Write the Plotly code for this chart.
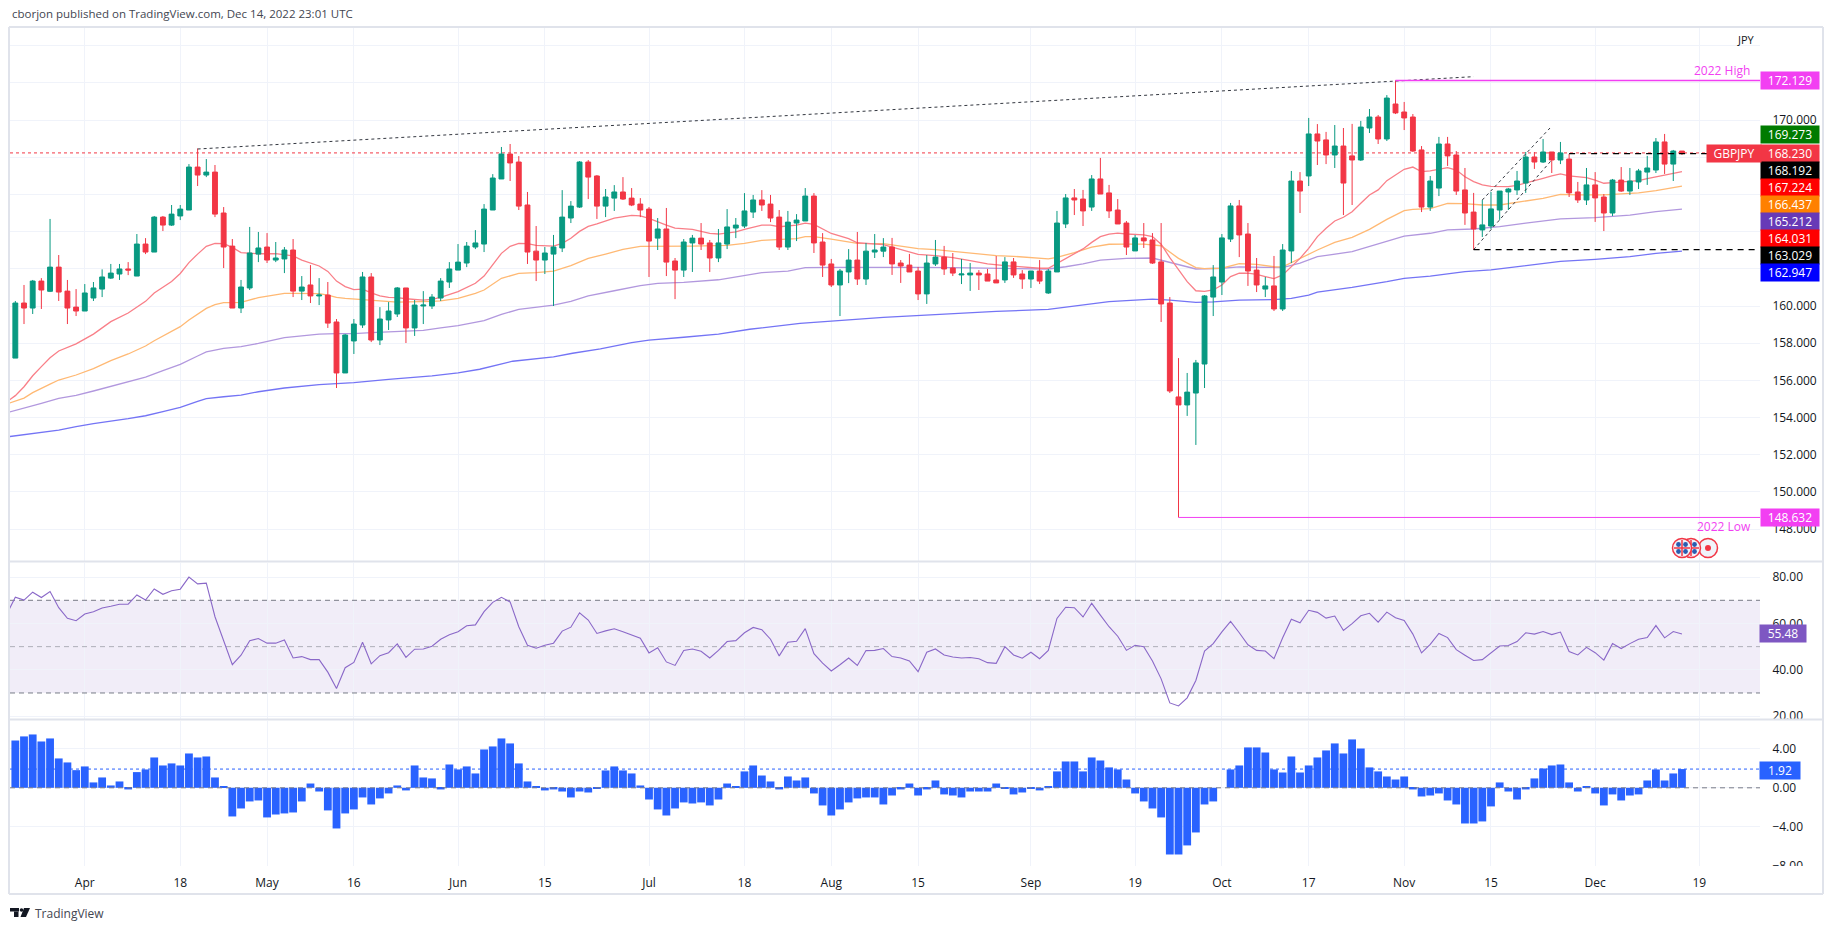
import plotly.graph_objects as go

W, H = 1833, 930

opens = [157.20,160.16,159.89,161.34,160.79,162.09,160.80,159.94,159.73,160.43,
160.91,161.50,161.72,161.99,161.61,163.33,162.90,164.78,164.35,164.84,
165.16,167.47,167.04,167.20,165.00,163.22,159.89,160.97,162.79,163.17,
162.47,162.53,163.01,160.80,161.13,160.54,160.59,159.14,156.40,158.12,
158.98,161.56,158.17,159.25,159.57,160.97,158.82,160.00,160.00,160.43,
161.29,161.93,162.31,163.17,163.33,165.16,166.83,168.17,167.74,165.43,
162.95,162.47,162.79,163.12,164.73,165.32,167.74,166.99,165.37,165.80,
166.13,165.80,165.48,165.21,163.65,164.14,162.42,161.93,163.39,163.65,
163.39,162.58,163.33,164.19,164.30,165.05,165.70,165.48,164.78,163.17,
164.46,164.57,165.91,163.44,162.26,161.13,161.83,162.47,161.45,162.90,
162.95,163.17,162.31,162.20,161.88,160.65,162.26,162.63,162.04,161.67,
161.67,161.77,161.72,161.40,161.40,162.37,161.72,161.45,161.88,160.70,
161.83,164.41,165.81,165.75,165.32,166.83,166.08,165.16,164.46,162.96,
163.66,163.55,162.37,160.16,155.11,154.68,155.32,156.88,160.48,161.29,
163.60,165.38,163.87,161.93,160.91,161.08,159.84,162.96,166.72,166.99,
169.25,168.93,168.12,168.60,168.07,167.85,169.57,170.16,168.98,170.86,
170.43,170.16,168.39,165.32,166.34,168.71,168.12,166.24,165.05,164.09,
164.30,165.16,166.13,166.24,166.61,168.01,167.74,168.28,167.85,167.90,
166.13,165.70,166.51,165.86,165.00,166.77,166.18,166.67,167.20,167.31,
168.82,167.63,168.33]

highs = [160.27,161.13,161.40,161.50,164.68,162.74,161.40,160.91,161.18,161.29,
161.97,162.26,162.26,162.36,163.87,163.65,164.84,164.84,165.43,165.43,
167.63,168.47,167.90,167.58,165.32,163.60,161.40,164.25,163.98,163.92,
163.44,163.17,163.60,161.61,162.20,161.50,161.29,159.30,158.49,159.30,
161.83,161.77,159.94,160.21,161.02,160.97,160.32,160.80,160.64,161.50,
162.36,163.33,163.44,164.08,165.48,167.09,168.55,168.71,168.06,166.13,
164.30,163.17,163.82,166.23,165.64,167.79,167.85,167.04,166.29,166.50,
166.93,166.34,165.80,165.32,164.73,165.27,162.58,163.60,163.82,164.46,
163.55,164.14,165.21,164.73,166.07,165.97,166.23,165.97,165.16,165.11,
164.94,166.34,166.07,163.92,162.53,161.99,163.06,163.98,163.39,163.87,
163.65,163.66,162.47,162.80,162.10,162.74,163.55,163.23,162.85,162.53,
162.31,161.93,161.99,162.69,162.63,162.58,161.93,161.88,162.47,161.99,
165.11,166.02,166.29,166.24,167.04,167.96,166.51,165.75,164.57,163.82,
164.46,163.92,164.46,160.48,157.20,156.40,157.10,160.59,162.20,163.87,
165.54,165.70,164.46,162.58,161.56,162.69,163.33,167.26,167.20,170.11,
169.78,169.36,169.73,169.57,169.79,169.95,170.59,170.27,171.34,172.13,
170.97,170.32,168.60,166.99,169.09,169.09,168.33,167.42,166.08,165.70,
166.13,166.18,166.34,167.26,168.28,168.28,168.98,168.28,168.82,168.17,
166.67,167.42,167.20,166.02,166.83,167.47,167.42,167.37,168.07,169.03,
169.25,168.39,168.33]

lows = [157.20,159.03,159.57,159.84,160.75,160.27,159.03,159.46,159.73,160.27,
160.48,161.45,161.40,161.66,161.61,162.79,162.90,164.03,164.30,164.62,
165.16,166.45,166.93,164.78,162.04,159.89,159.62,160.86,162.36,162.31,
162.36,161.77,160.48,160.32,160.16,160.05,158.82,155.59,156.40,157.42,
158.82,158.06,157.90,158.71,159.41,158.01,158.39,159.03,159.84,160.27,
160.97,161.93,162.09,163.06,162.90,165.16,166.83,166.72,165.16,162.26,
161.34,161.72,160.00,162.90,164.46,165.27,165.75,164.68,164.78,165.11,
165.70,165.37,164.78,161.56,163.01,161.61,160.37,161.56,161.83,163.01,
161.83,162.36,163.06,163.65,164.19,164.73,165.11,164.51,163.01,163.01,
163.49,164.57,162.85,161.56,161.02,159.46,161.23,161.13,161.13,162.58,
162.63,161.67,161.24,161.83,160.32,160.11,162.15,161.67,161.61,161.18,
160.81,160.86,161.34,161.24,161.24,161.51,160.92,160.97,161.18,160.65,
161.83,164.19,164.89,164.30,165.11,166.02,164.73,164.41,162.74,162.96,
163.12,162.26,159.14,155.32,148.63,154.09,152.53,155.59,159.46,160.59,
163.44,162.63,161.08,160.75,160.48,159.73,159.73,162.31,165.00,166.45,
167.58,167.63,167.42,164.89,165.43,167.80,169.30,168.71,168.87,170.32,
169.46,168.28,165.05,165.11,165.91,167.53,165.97,164.36,163.03,163.71,
164.14,164.63,165.16,165.97,166.08,167.37,167.69,167.15,167.63,165.86,
165.54,165.43,164.52,164.03,164.84,166.13,165.97,166.29,166.51,167.15,
167.10,166.72,168.12]

closes = [160.16,159.89,161.34,160.86,162.09,160.75,159.89,159.73,160.70,160.97,
161.56,161.77,161.99,161.93,163.33,162.90,164.78,164.35,164.94,165.21,
167.47,167.04,167.20,164.94,163.17,159.89,161.02,162.85,163.12,162.47,
162.58,163.01,160.80,161.02,160.54,160.59,159.08,156.40,158.44,159.03,
161.56,158.17,159.30,159.73,160.97,158.82,160.05,160.05,160.48,161.34,
161.99,162.36,163.22,163.39,165.21,166.88,168.17,167.69,165.37,162.90,
162.47,162.85,163.17,164.78,165.37,167.74,166.93,165.37,165.86,166.13,
165.75,165.43,165.16,163.49,164.14,162.36,161.93,163.44,163.65,163.33,
162.58,163.39,164.25,164.35,165.11,165.70,165.43,164.73,163.17,164.51,
164.62,165.91,163.39,162.20,161.13,161.88,162.47,161.45,162.95,163.01,
163.17,162.26,162.15,161.83,160.65,162.31,162.63,161.99,161.77,161.72,
161.77,161.67,161.34,161.24,162.37,161.67,161.45,161.88,161.34,161.88,
164.46,165.81,165.70,165.11,166.83,166.02,165.11,164.41,163.17,163.66,
163.50,162.31,160.11,155.43,154.68,155.37,156.94,160.54,161.56,163.66,
165.38,163.82,161.88,161.13,161.08,159.84,163.01,166.72,166.18,169.25,
168.87,168.12,168.60,166.61,167.85,169.62,170.16,168.98,171.18,170.38,
170.11,168.33,165.32,166.72,168.71,168.07,166.18,165.00,164.14,164.36,
165.22,166.18,166.29,166.72,168.01,167.74,168.28,167.85,168.23,166.08,
165.70,166.51,165.81,165.00,166.77,166.18,166.72,167.26,167.42,168.82,
167.63,168.33,168.23]

ema20_idx = [-1,0,1,2,3,4,5,6,7,9,11,13,15,16,18,19,20,21,22,23,24,25,26,28,30,32,33,35,36,37,38,39,40,41,42,43,44,45,46,47,48,49,51,53,54,55,56,57,58,59,60,62,63,64,65,66,67,69,71,72,73,75,76,78,80,81,83,84,86,87,88,90,91,92,94,96,97,100,101,103,104,106,108,110,112,114,116,118,119,120,121,122,123,124,125,126,127,128,129,130,131,132,133,134,135,136,137,138,139,140,141,142,143,144,145,146,147,148,149,150,151,152,153,154,155,156,157,158,159,160,161,162,163,164,165,166,167,168,169,170,171,172,173,174,175,176,177,178,179,180,181,182,183,184,185,186,187,188,189,190,191,192]
ema20_val = [154.84,155.18,155.66,156.25,156.74,157.22,157.58,157.78,157.96,158.49,159.16,159.62,160.25,160.70,161.32,161.75,162.33,162.79,163.21,163.37,163.35,163.15,162.87,162.81,162.81,162.69,162.47,162.15,161.86,161.34,161.04,160.88,160.91,160.71,160.55,160.46,160.45,160.39,160.34,160.32,160.36,160.46,160.77,161.22,161.61,162.20,162.83,163.21,163.37,163.35,163.26,163.22,163.37,163.64,164.01,164.28,164.41,164.73,164.87,164.84,164.71,164.35,164.19,164.12,163.90,163.87,163.99,164.12,164.35,164.35,164.26,164.35,164.46,164.39,163.90,163.62,163.40,163.30,163.17,162.92,162.78,162.71,162.60,162.44,162.26,162.17,162.08,162.03,162.03,162.29,162.56,162.83,163.07,163.42,163.73,163.87,163.92,163.87,163.84,163.82,163.73,163.32,162.60,161.94,161.31,160.82,160.79,160.86,161.13,161.58,161.76,161.77,161.70,161.58,161.47,161.67,162.11,162.56,163.10,163.73,164.18,164.57,164.77,165.07,165.52,165.97,166.24,166.74,167.04,167.35,167.47,167.22,167.26,167.35,167.44,167.31,166.95,166.69,166.51,166.43,166.42,166.42,166.49,166.60,166.74,166.86,166.99,167.10,166.99,166.94,166.90,166.77,166.60,166.63,166.67,166.67,166.74,166.85,166.95,167.04,167.13,167.22]

ema50_idx = [-1,1,2,3,4,5,7,9,11,13,15,16,18,19,20,21,22,23,24,25,26,28,30,31,32,34,35,36,37,38,40,42,44,46,48,49,51,53,54,56,58,60,62,64,65,66,68,70,72,74,76,78,82,84,86,88,90,91,92,94,97,100,102,104,106,108,111,113,115,117,119,120,122,124,126,128,130,132,134,136,137,139,141,143,145,146,148,150,152,154,156,158,160,161,163,165,167,169,171,173,176,178,180,183,185,187,189,191,192]
ema50_val = [154.73,155.05,155.34,155.55,155.80,156.02,156.29,156.63,157.06,157.42,157.85,158.13,158.64,158.89,159.25,159.57,159.87,160.07,160.18,160.18,160.20,160.45,160.61,160.68,160.68,160.66,160.66,160.59,160.46,160.41,160.32,160.27,160.21,160.21,160.25,160.27,160.41,160.68,160.86,161.49,161.75,161.79,161.88,162.17,162.38,162.56,162.79,163.04,163.21,163.21,163.19,163.22,163.26,163.37,163.53,163.58,163.62,163.73,163.73,163.60,163.37,163.35,163.23,163.08,163.03,162.94,162.80,162.71,162.67,162.58,162.53,162.62,162.87,163.17,163.32,163.33,163.33,163.24,162.56,162.06,162.01,162.03,162.28,162.24,162.11,162.10,162.56,163.01,163.42,163.69,164.12,164.66,165.13,165.20,165.23,165.52,165.50,165.43,165.43,165.56,165.79,166.00,165.97,165.97,166.02,166.08,166.20,166.36,166.44]

ema100_idx = [-1,1,3,5,7,9,11,13,15,17,19,21,22,24,26,28,30,31,33,35,37,39,41,43,45,47,49,51,54,56,58,62,64,66,69,72,74,77,81,84,86,89,91,94,97,100,104,108,111,115,119,121,123,125,128,131,133,136,139,141,144,146,148,150,154,158,160,163,165,168,171,174,178,182,186,189,192]
ema100_val = [154.26,154.50,154.77,155.03,155.20,155.43,155.68,155.91,156.18,156.52,156.86,157.31,157.53,157.72,157.81,157.99,158.19,158.30,158.39,158.49,158.51,158.51,158.57,158.60,158.64,158.69,158.82,158.94,159.21,159.55,159.82,160.05,160.25,160.55,160.82,161.09,161.22,161.27,161.41,161.63,161.79,161.88,162.06,162.08,162.08,162.11,162.08,162.06,162.04,162.04,161.99,162.11,162.26,162.47,162.56,162.58,162.33,161.99,162.03,162.10,162.08,162.06,162.31,162.65,162.92,163.50,163.76,163.91,164.09,164.14,164.27,164.45,164.68,164.75,164.89,165.07,165.21]

ema200_idx = [-1,5,7,9,13,15,17,19,21,22,24,26,28,30,31,35,39,43,48,51,53.5,57.3,62,64.2,67.4,71,73,77,81,84.6,90.4,100,104,108,113,119,123,126,131,133,136,138,141,145,147,149,150,154,158,160,163,167,170,174,178,182,186,189,192]
ema200_val = [152.96,153.33,153.51,153.67,153.94,154.10,154.32,154.55,154.87,155.02,155.12,155.21,155.39,155.52,155.59,155.77,155.88,156.06,156.24,156.40,156.60,157.03,157.26,157.46,157.70,158.03,158.17,158.32,158.49,158.75,159.07,159.39,159.50,159.61,159.71,159.82,160.05,160.23,160.37,160.32,160.20,160.22,160.32,160.34,160.41,160.59,160.74,161.00,161.31,161.49,161.61,161.85,161.94,162.15,162.40,162.51,162.65,162.83,162.95]

rsi_start = 64.0
rsi = [71.3,70.1,73.5,71.2,73.8,66.8,62.2,61.2,64.1,65.1,
66.7,67.4,68.3,68.3,72.3,70.1,74.9,72.6,74.1,74.8,
80.0,77.1,77.4,62.9,52.8,42.2,46.3,52.6,53.5,51.5,
51.5,52.9,45.1,45.7,44.4,44.4,39.0,31.9,40.9,43.2,
51.9,42.6,46.1,47.4,51.2,45.4,48.9,49.0,50.2,53.2,
55.1,56.4,59.0,59.4,65.1,69.1,71.3,69.3,58.6,50.6,
49.3,50.6,51.5,56.7,58.4,64.6,61.5,55.7,56.8,57.7,
56.4,55.1,53.6,47.3,49.5,43.4,41.9,48.3,49.0,48.0,
45.1,48.4,52.2,52.6,56.0,58.3,57.3,53.2,46.0,51.9,
52.3,57.8,47.0,42.9,39.5,42.2,45.1,41.9,48.3,48.4,
49.2,45.7,45.1,43.8,39.2,47.6,49.0,46.4,45.5,45.1,
45.3,44.8,43.1,42.8,50.0,46.4,45.0,47.6,44.8,48.4,
62.2,67.0,66.8,62.8,68.7,63.6,58.6,54.5,48.4,50.6,
50.0,43.8,36.1,25.7,24.4,27.9,35.4,48.1,51.3,56.4,
60.9,56.0,50.8,48.4,48.1,44.8,53.8,61.8,60.3,65.7,
64.8,62.3,63.2,57.0,59.9,63.3,64.4,60.6,64.9,62.5,
61.3,55.4,47.3,51.0,55.7,53.9,48.7,46.3,44.0,44.4,
47.3,50.3,50.5,52.2,56.0,55.4,56.5,55.2,56.3,47.9,
46.4,49.7,47.4,44.2,51.3,49.2,51.3,53.2,53.9,59.1,
53.8,56.5,55.48]

macd = [4.85,5.27,5.47,4.75,5.06,3.01,2.60,1.81,2.19,0.55,
1.06,0.24,0.65,-0.17,1.61,1.88,3.11,2.29,2.50,2.29,
3.52,3.11,3.21,1.06,0.14,-2.94,-2.12,-1.40,-1.30,-3.04,
-2.74,-2.63,-2.53,-1.40,0.44,-0.38,-2.32,-4.17,-2.63,-2.22,
-0.99,-1.71,-1.09,-0.58,0.24,-0.27,2.29,1.06,0.96,-0.17,
2.39,1.88,2.19,1.47,3.93,4.24,5.06,4.55,2.50,0.65,
0.14,-0.27,-0.17,-0.38,-0.99,-0.38,-0.48,-0.07,1.78,2.19,
1.78,1.47,0.24,-1.20,-2.22,-2.84,-2.12,-1.50,-1.61,-1.50,
-1.81,-1.20,0.44,0.14,1.68,2.29,1.26,0.65,-0.17,1.16,
0.75,1.06,-0.58,-1.81,-2.84,-2.22,-1.50,-1.09,-0.99,-0.99,
-1.71,-0.79,-0.17,0.44,-0.79,-0.17,0.75,-0.68,-0.79,-0.99,
-0.38,-0.38,-0.38,0.44,-0.03,-0.68,-0.48,-0.03,-0.27,0.14,
1.68,2.70,2.70,1.68,3.11,2.80,2.09,1.88,0.85,-0.58,
-1.40,-2.12,-3.04,-6.84,-6.84,-5.91,-4.58,-1.71,-1.40,0.0,
1.88,2.29,4.14,4.14,3.62,1.88,1.57,3.21,1.57,2.29,
3.11,3.83,4.55,3.52,4.96,4.03,2.09,1.68,1.16,0.85,
1.16,-0.17,-0.89,-0.79,-0.58,-1.30,-1.71,-3.66,-3.66,-3.45,
-1.91,0.55,-0.38,-1.20,-0.17,0.96,1.98,2.29,2.39,0.55,
-0.38,0.14,-0.58,-1.81,-0.68,-1.30,-0.79,-0.68,0.75,1.88,
0.75,1.47,1.92]

date_tick_idx = [8,19,29,39,51,61,73,84,94,104,117,129,139,149,160,170,182,194]
date_tick_txt = ["Apr","18","May","16","Jun","15","Jul","18","Aug","15","Sep","19","Oct","17","Nov","15","Dec","19"]
price_ticks = [148,150,152,154,156,158,160,162,164,166,168,170,172,174]
price_tick_txt = ["148.000","150.000","152.000","154.000","156.000","158.000","160.000","","","","","170.000","",""]
rsi_ticks = [20,40,60,80]
macd_ticks = [-8,-4,0,4]
macd_tick_txt = ["\u22128.00","\u22124.00","0.00","4.00"]

high_2022 = 172.129
low_2022 = 148.632
last_price = 168.23
res_level = 168.192
sup_level = 163.029
rsi_last = 55.48
macd_last = 1.92

trend_x, trend_y = [21, 168], [168.44, 172.33]
chan_up_x, chan_up_y = [169, 176.8], [165.70, 169.57]
chan_lo_x, chan_lo_y = [168, 177], [163.03, 167.85]

price_labels = ["172.129","169.273","168.230","168.192","167.224","166.437","165.212","164.031","163.029","162.947","148.632"]

FONT = "Open Sans"
TXT = "#131722"
GRID = "#f0f3fa"
MAG = "#f23ff2"

X0, X1 = -0.614, 200.99
xs = list(range(len(closes)))

fig = go.Figure()


def line(x, y, color, width=1, dash="solid", axis="y"):
    fig.add_trace(go.Scatter(x=x, y=y, mode="lines", yaxis=axis, hoverinfo="skip",
                             line=dict(color=color, width=width, dash=dash)))


# moving averages sit under the candles
line(ema200_idx, ema200_val, "#7474f5", 1.3)
line(ema100_idx, ema100_val, "#b298de", 1.3)
line(ema50_idx, ema50_val, "#ffb974", 1.3)
line(ema20_idx, ema20_val, "#f97f88", 1.3)
line([X0, X1], [last_price, last_price], "#f23645", 1, "dot")

fig.add_trace(go.Candlestick(x=xs, open=opens, high=highs, low=lows, close=closes, yaxis="y4",
    increasing=dict(line=dict(color="#089981", width=1), fillcolor="#089981"),
    decreasing=dict(line=dict(color="#f23645", width=1), fillcolor="#f23645"),
    whiskerwidth=0, hoverinfo="skip"))

# drawings
line(trend_x, trend_y, "#333740", 1, "dot", "y4")
line(chan_up_x, chan_up_y, "#333740", 1, "dot", "y4")
line(chan_lo_x, chan_lo_y, "#333740", 1, "dot", "y4")
line([159, X1], [high_2022, high_2022], MAG, 1.5, "solid", "y4")
line([134, X1], [low_2022, low_2022], MAG, 1, "solid", "y4")
line([179, 200.4], [res_level, res_level], "#000000", 1.2, "6px,5px", "y4")
line([168, 200.4], [sup_level, sup_level], "#000000", 1.2, "6px,5px", "y4")

# RSI
for lvl, col in ((70, "#787b86"), (50, "rgba(120,123,134,0.55)"), (30, "#787b86")):
    line([X0, X1], [lvl, lvl], col, 1, "5px,4px", "y2")
line([-1] + xs, [rsi_start] + rsi, "#8a68c8", 1.1, "solid", "y2")

# MACD histogram
fig.add_trace(go.Bar(x=xs, y=macd, yaxis="y3", marker=dict(color="#2962ff", line=dict(width=0)),
                     width=0.9, hoverinfo="skip"))
line([X0, X1], [macd_last, macd_last], "#2962ff", 1, "dot", "y3")
line([X0, X1], [0, 0], "#787b86", 1, "5px,4px", "y3")


def px(x):
    return x / W


def py(y):
    return 1 - y / H


yax = dict(side="right", anchor="x", showgrid=True, gridcolor=GRID, gridwidth=1, zeroline=False,
           ticks="outside", ticklen=9, tickcolor="rgba(0,0,0,0)", showline=False, automargin=False,
           tickfont=dict(family=FONT, size=12, color=TXT), fixedrange=True)

shapes = [
    dict(type="rect", xref="x", yref="y2", x0=X0, x1=X1, y0=30, y1=70, layer="below",
         fillcolor="rgba(126,87,194,0.11)", line=dict(width=0)),
]


def rect(x0, y0, x1, y1, fill, **kw):
    shapes.append(dict(type="rect", xref="paper", yref="paper", x0=px(x0), x1=px(x1), y0=py(y0), y1=py(y1),
                       fillcolor=fill, line=dict(width=0), layer="above", **kw))


def seg(x0, y0, x1, y1, color, width=1.0):
    shapes.append(dict(type="line", xref="paper", yref="paper", x0=px(x0), x1=px(x1), y0=py(y0), y1=py(y1),
                       line=dict(color=color, width=width), layer="above"))


def circ(cx, cy, r, fill, color="#f23645", width=1.5):
    shapes.append(dict(type="circle", xref="paper", yref="paper", x0=px(cx - r), x1=px(cx + r),
                       y0=py(cy + r), y1=py(cy - r), fillcolor=fill,
                       line=dict(color=color, width=width), layer="above"))


# clip tick labels that run past their pane
rect(1761, 719.5, 1822, 726, "#ffffff")
rect(1761, 866, 1822, 873, "#ffffff")

# frame + pane separators
frame = "#e0e3eb"
seg(9, 27, 1823, 27, frame, 2)
seg(9, 894, 1823, 894, frame, 2)
seg(9, 27, 9, 894, frame, 2)
seg(1823, 27, 1823, 894, frame, 2)
seg(9, 561.5, 1823, 561.5, frame, 2)
seg(9, 719.5, 1823, 719.5, frame, 2)

# event icons
circ(1708, 548, 9.5, "#f0f3fa")
circ(1708, 548, 3, "#f23645", "#f23645", 0)
for cx in (1691, 1682):
    circ(cx, 548, 9.5, "#f0f3fa")
    for dx in (-3.5, 3.5):
        for dy in (-3.5, 3.5):
            circ(cx + dx, 548 + dy, 2.4, "#2a5db0", "#2a5db0", 0)
    seg(cx - 8, 548, cx + 8, 548, "#f23645", 1.5)
    seg(cx, 540, cx, 556, "#f23645", 1.5)

# TradingView mark
rect(10, 908, 19, 911.5, "#131722")
rect(14, 911.5, 18.5, 917, "#131722")
circ(21.5, 910, 1.8, "#131722", "#131722", 0)
shapes.append(dict(type="path", xref="paper", yref="paper", layer="above", fillcolor="#131722", line=dict(width=0),
                   path=f"M {px(24)} {py(908)} L {px(30)} {py(908)} L {px(26)} {py(917)} L {px(20.5)} {py(917)} Z"))


def label(text, cy, color, x0=1760, width=58, height=17):
    return dict(xref="paper", yref="paper", x=px(x0), y=py(cy), xanchor="left", yanchor="middle",
                text=text, showarrow=False, width=width, height=height, bgcolor=color, borderpad=0,
                align="center", valign="middle", font=dict(family=FONT, size=12, color="#ffffff"))


label_y = [80.3, 135, 153.7, 170.7, 187.7, 204.7, 221.7, 238.7, 255.7, 272.3, 517]
label_col = [MAG, "#007b00", "#f23645", "#000000", "#ff0000", "#ff8000", "#673ab7", "#ff0000", "#000000", "#0000ff", MAG]

annotations = [label(t, y, c) for t, y, c in zip(price_labels, label_y, label_col)]
annotations += [
    label("GBPJPY", 153.7, "#f23645", 1706, 54, 17),
    label(f"{rsi_last:.2f}", 633.5, "#7e57c2", 1759, 46, 17),
    label(f"{macd_last:.2f}", 770.5, "#2962ff", 1759, 40, 17),
]


def text(t, x, y, size=12, color=TXT, anchor="left"):
    return dict(xref="paper", yref="paper", x=px(x), y=py(y), xanchor=anchor, yanchor="middle", text=t,
                showarrow=False, font=dict(family=FONT, size=size, color=color))


annotations += [
    text("cborjon published on TradingView.com, Dec 14, 2022 23:01 UTC", 10, 14, 11.5, "#434651"),
    text("TradingView", 33, 913, 12, "#434651"),
    text("JPY", 1757, 40, 11, TXT, "right"),
    text("2022 High", 1752, 71, 12, MAG, "right"),
    text("2022 Low", 1753, 526, 12, MAG, "right"),
]

fig.update_layout(
    width=W, height=H, margin=dict(l=0, r=0, t=0, b=0, autoexpand=False), paper_bgcolor="#ffffff",
    plot_bgcolor="#ffffff", showlegend=False, barmode="overlay", hovermode=False, boxgap=0.2,
    shapes=shapes, annotations=annotations,
    font=dict(family=FONT, size=12, color=TXT),
    xaxis=dict(domain=[px(10), px(1760)], range=[X0, X1], anchor="y3", showgrid=True, gridcolor=GRID,
               tickmode="array", tickvals=date_tick_idx, ticktext=date_tick_txt, zeroline=False, automargin=False,
               ticks="outside", ticklen=6, tickcolor="rgba(0,0,0,0)", rangeslider=dict(visible=False),
               tickfont=dict(family=FONT, size=12, color=TXT), fixedrange=True),
    yaxis=dict(domain=[py(561), py(27)], range=[146.29, 175.0], tickmode="array", tickvals=price_ticks,
               ticktext=price_tick_txt, **yax),
    yaxis4=dict(domain=[py(561), py(27)], range=[146.29, 175.0], overlaying="y", side="right",
                visible=False, showgrid=False, fixedrange=True, automargin=False),
    yaxis2=dict(domain=[py(719), py(563)], range=[18.77, 86.1], tickmode="array", tickvals=rsi_ticks,
                ticktext=[f"{v:.2f}" for v in rsi_ticks], **yax),
    yaxis3=dict(domain=[py(866), py(721)], range=[-8.02, 6.85], tickmode="array", tickvals=macd_ticks,
                ticktext=macd_tick_txt, **yax),
)

fig.write_html("out.html", config=dict(displayModeBar=False),
               post_script="document.body.style.margin='0';document.body.style.overflow='hidden';")
